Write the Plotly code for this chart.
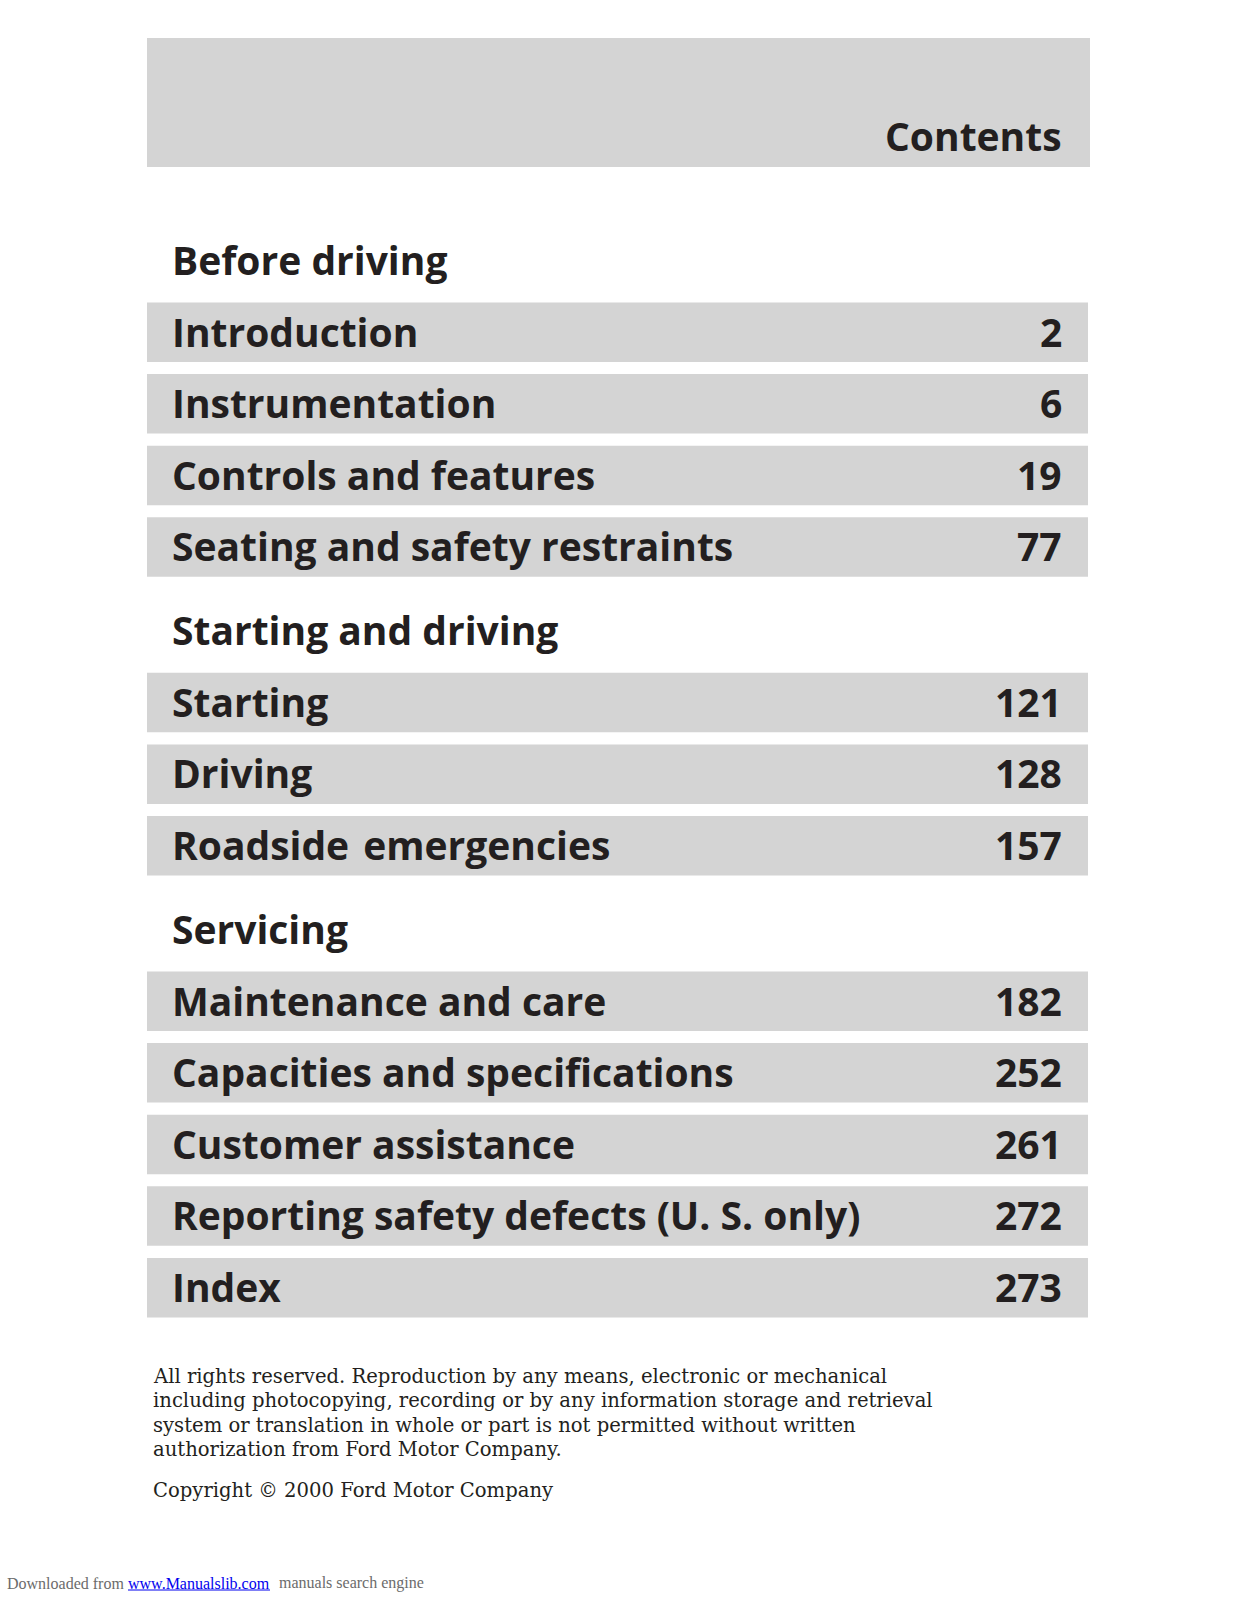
import plotly.graph_objects as go

# ---- data ----
page_title = "Contents"
section_titles = ["Before driving", "Starting and driving", "Servicing"]
entry_titles = [
    ["Introduction", "Instrumentation", "Controls and features",
     "Seating and safety restraints"],
    ["Starting", "Driving", "Roadside  emergencies"],
    ["Maintenance and care", "Capacities and specifications",
     "Customer assistance", "Reporting safety defects (U. S. only)", "Index"],
]
entry_pages = [
    [2, 6, 19, 77],
    [121, 128, 157],
    [182, 252, 261, 272, 273],
]
notice_lines = [
    "All rights reserved. Reproduction by any means, electronic or mechanical",
    "including photocopying, recording or by any information storage and retrieval",
    "system or translation in whole or part is not permitted without written",
    "authorization from Ford Motor Company.",
]
copyright_line = "Copyright \u00a9 2000 Ford Motor Company"
download_prefix = "Downloaded from"
download_link = "www.Manualslib.com"
download_suffix = "manuals search engine"

# ---- styles / layout ----
W, H = 1237, 1600
BAR = "#d4d4d4"
INK = "#231f20"
SANS = "Open Sans, Noto Sans, sans-serif"
SERIF = "DejaVu Serif, Liberation Serif, serif"
SERIF2 = "Liberation Serif, Times New Roman, serif"
FS = 39
LEFT, RIGHT = 147, 1088
TEXT_L, TEXT_R = 170, 1064

fig = go.Figure()
shapes = []
ann = []

# header band
shapes.append(dict(type="rect", xref="x", yref="y", x0=LEFT, x1=1090, y0=38, y1=167,
                   fillcolor=BAR, line=dict(width=0), layer="below"))
ann.append(dict(x=TEXT_R, y=135, text="<b>%s</b>" % page_title, xanchor="right",
                yanchor="middle", showarrow=False,
                font=dict(family=SANS, size=FS, color=INK)))


def spaced(t):
    return t.replace("  ", " \u200a")


pitch = 71.6
bar_h = 59.5
y_head = 277.0
for s_idx, sec in enumerate(section_titles):
    ann.append(dict(x=TEXT_L, y=y_head - 17.5, text="<b>%s</b>" % sec, xanchor="left",
                    yanchor="middle", showarrow=False,
                    font=dict(family=SANS, size=FS, color=INK)))
    top = y_head + 25.5
    for j, (t, p) in enumerate(zip(entry_titles[s_idx], entry_pages[s_idx])):
        y0 = top + j * pitch
        shapes.append(dict(type="rect", xref="x", yref="y", x0=LEFT, x1=RIGHT,
                           y0=y0, y1=y0 + bar_h, fillcolor=BAR,
                           line=dict(width=0), layer="below"))
        ann.append(dict(x=TEXT_L, y=y0 + 28.5, text="<b>%s</b>" % spaced(t),
                        xanchor="left", yanchor="middle", showarrow=False,
                        font=dict(family=SANS, size=FS, color=INK)))
        ann.append(dict(x=TEXT_R, y=y0 + 28.5, text="<b>%d</b>" % p,
                        xanchor="right", yanchor="middle", showarrow=False,
                        font=dict(family=SANS, size=FS, color=INK)))
    last_top = top + (len(entry_titles[s_idx]) - 1) * pitch
    y_head = last_top + 130

# notice text
for i, line in enumerate(notice_lines):
    ann.append(dict(x=151, y=1376 + i * 24.5, text=line, xanchor="left",
                    yanchor="middle", showarrow=False,
                    font=dict(family=SERIF, size=19.6, color=INK)))
ann.append(dict(x=151, y=1490, text=copyright_line, xanchor="left",
                yanchor="middle", showarrow=False,
                font=dict(family=SERIF, size=19.6, color=INK)))

# download footer
ann.append(dict(x=5, y=1583, text=download_prefix, xanchor="left", yanchor="middle",
                showarrow=False, font=dict(family=SERIF2, size=16, color="#6b6b6b")))
ann.append(dict(x=126, y=1583, text=download_link, xanchor="left", yanchor="middle",
                showarrow=False, font=dict(family=SERIF2, size=16, color="#0000ee")))
shapes.append(dict(type="line", xref="x", yref="y", x0=128, x1=270, y0=1590, y1=1590,
                   line=dict(color="#0000ee", width=1)))
ann.append(dict(x=277, y=1583, text=download_suffix, xanchor="left", yanchor="middle",
                showarrow=False, font=dict(family=SERIF2, size=16, color="#6b6b6b")))

fig.update_layout(
    width=W, height=H, margin=dict(l=0, r=0, t=0, b=0),
    paper_bgcolor="white", plot_bgcolor="white",
    xaxis=dict(range=[0, W], visible=False, fixedrange=True),
    yaxis=dict(range=[H, 0], visible=False, fixedrange=True),
    shapes=shapes, annotations=ann, showlegend=False,
)

fig.write_html("out.html", config={"displayModeBar": False},
               post_script="document.body.style.margin='0';")
